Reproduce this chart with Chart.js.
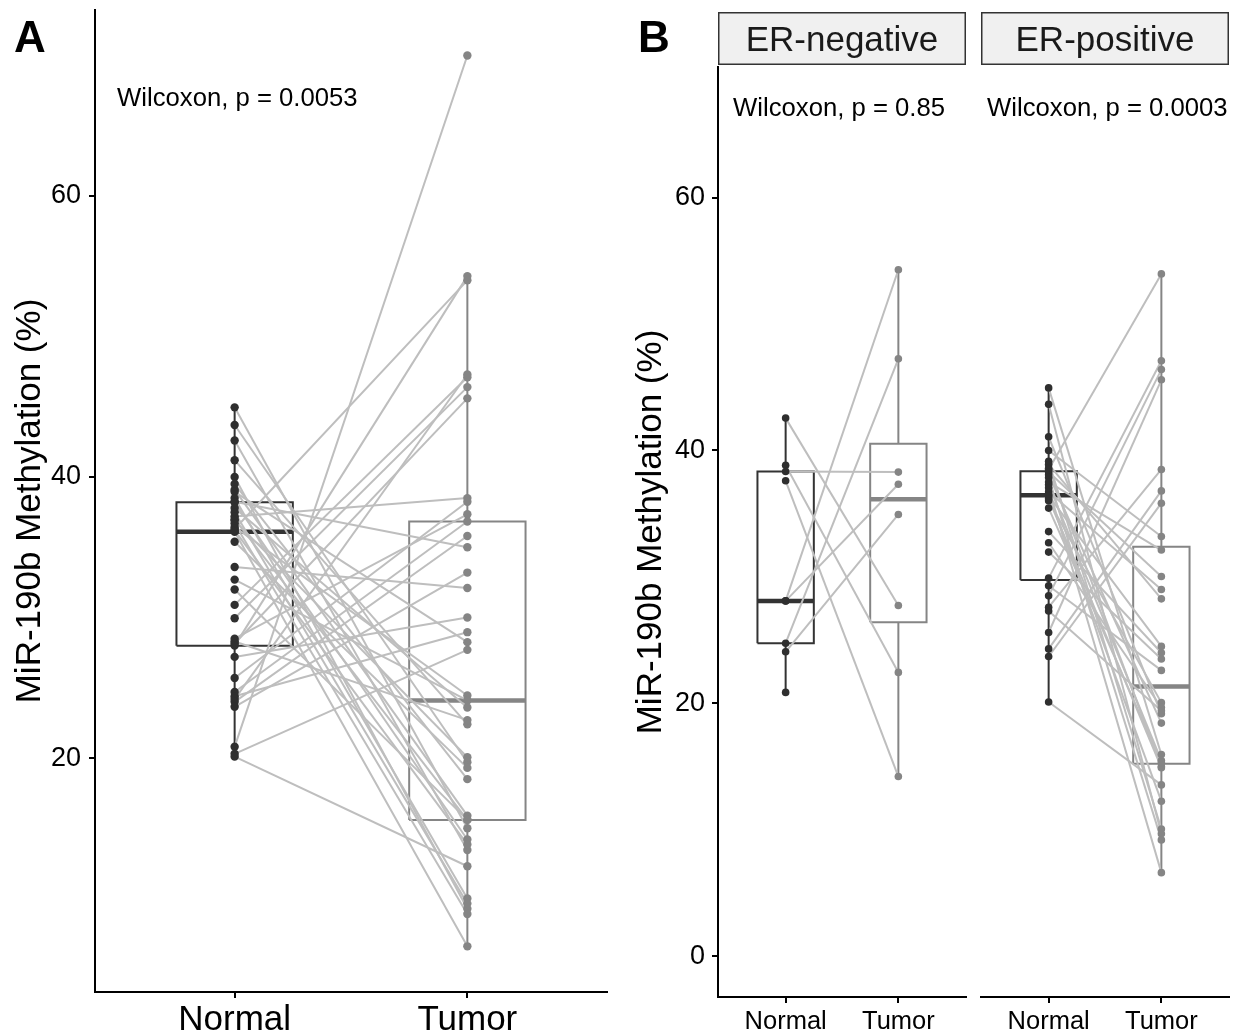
<!DOCTYPE html>
<html>
<head>
<meta charset="utf-8">
<script src="https://cdn.jsdelivr.net/npm/chart.js@4.4.1/dist/chart.umd.min.js"></script>
<style>
body { margin: 0; background: #fff; }
#wrap { position: relative; width: 1233px; height: 1032px; font-family: "Liberation Sans", Arial, sans-serif; }
canvas { position: absolute; top: 0; }
.tag { position: absolute; font-weight: bold; font-size: 44px; line-height: 44px; color: #000; }
</style>
</head>
<body>
<div id="wrap">
  <canvas id="chartA" width="620" height="1032" style="left:0px"></canvas>
  <canvas id="chartNeg" width="350" height="1032" style="left:620px"></canvas>
  <canvas id="chartPos" width="263" height="1032" style="left:970px"></canvas>
  <div class="tag" style="left:14px;top:15px">A</div>
  <div class="tag" style="left:638px;top:15px">B</div>
</div>
<script>
// groups on the x axis
const groups = ['Normal', 'Tumor'];
const groupPos = [1, 2];

// tick labels
const yTicksA = [20, 40, 60];
const yTicksB = [0, 20, 40, 60];

// panel A: all pairs (same index = same patient)
const normalA = [44.96, 43.7, 42.6, 41.2, 40.0, 39.5, 39.1, 38.95, 38.5, 38.24, 38.2, 37.8, 37.5, 37.2, 37.0,
    36.9, 36.7, 36.45, 36.3, 36.2, 36.1, 35.4, 33.6, 32.7, 32.0, 30.9, 29.95, 28.5, 28.3, 28.15,
    28.0, 27.2, 25.7, 24.7, 24.4, 24.2, 24.0, 23.65, 20.8, 20.3, 20.1];
const tumorA = [15.0, 19.7, 13.45, 22.4, 9.27, 18.5, 15.9, 28.25, 10.0, 35.0, 14.2, 23.6, 9.64, 38.5, 15.6,
    20.06, 8.9, 24.45, 54.0, 13.85, 6.6, 19.3, 32.1, 24.1, 15.6, 47.1, 46.4, 37.35, 22.7, 45.6,
    54.3, 30.0, 38.24, 36.84, 28.96, 47.3, 35.8, 33.2, 70.0, 27.7, 12.3];

// panel B: ER-negative
const normalNeg = [42.56, 38.83, 38.34, 37.6, 28.1, 28.1, 24.75, 24.07, 20.86];
const tumorNeg = [27.74, 22.44, 38.29, 14.2, 54.3, 37.33, 47.25, 34.94, null];

// panel B: ER-positive
const normalPos = [44.95, 43.65, 41.08, 40.0, 39.15, 38.9, 38.6, 38.5, 38.3, 38.08, 37.86, 37.5, 37.3, 37.05, 36.73,
    36.5, 36.41, 36.2, 36.02, 35.44, 33.58, 32.7, 31.96, 29.9, 29.3, 28.5, 27.6, 27.3, 25.6, 24.3, 23.7, 20.1];
const tumorPos = [15.95, 9.67, 19.17, 33.19, 10.05, 28.26, 14.99, 53.97, 30.03, 18.43, 9.19, 32.12, 15.47, 6.6, 29.0,
    12.25, 24.5, 14.9, 20.05, 15.3, 24.0, 19.66, 23.5, 47.1, 22.6, 46.4, 38.5, 19.4, 45.59, 36.8, 35.83, 13.54];

const FONT = '"Liberation Sans", Arial, sans-serif';
const LINE_COLOR = '#BEBEBE';
const NORMAL_COLOR = '#2F2F2F';
const TUMOR_COLOR = '#858585';

// quantile like R type 7
function quantile(sorted, p) {
    const h = (sorted.length - 1) * p;
    const lo = Math.floor(h);
    const next = lo + 1 < sorted.length ? sorted[lo + 1] : sorted[lo];
    return sorted[lo] + (h - lo) * (next - sorted[lo]);
}

function boxStats(values) {
    const s = values.filter(v => v != null).sort((a, b) => a - b);
    const q1 = quantile(s, 0.25), med = quantile(s, 0.5), q3 = quantile(s, 0.75);
    const iqr = q3 - q1;
    const lo = s.find(v => v >= q1 - 1.5 * iqr);
    const hi = s.slice().reverse().find(v => v <= q3 + 1.5 * iqr);
    return { q1, med, q3, lo, hi };
}

// box, median and whiskers as line datasets
function boxDatasets(x, values, color) {
    const st = boxStats(values);
    const w = 0.25;
    const base = { type: 'line', showLine: true, borderColor: color, pointRadius: 0, fill: false, order: 2,
        borderJoinStyle: 'miter', borderCapStyle: 'butt' };
    return [
        { ...base, borderWidth: 2, data: [{ x: x - w, y: st.q1 }, { x: x + w, y: st.q1 }, { x: x + w, y: st.q3 },
            { x: x - w, y: st.q3 }, { x: x - w, y: st.q1 }] },
        { ...base, borderWidth: 4.5, data: [{ x: x - w, y: st.med }, { x: x + w, y: st.med }] },
        { ...base, borderWidth: 2, data: [{ x: x, y: st.q3 }, { x: x, y: st.hi }] },
        { ...base, borderWidth: 2, data: [{ x: x, y: st.lo }, { x: x, y: st.q1 }] }
    ];
}

// grey lines joining each pair
function pairDatasets(normal, tumor) {
    const out = [];
    normal.forEach((n, i) => {
        if (n == null || tumor[i] == null) return;
        out.push({ type: 'line', showLine: true, borderColor: LINE_COLOR, borderWidth: 2, pointRadius: 0, order: 1,
            data: [{ x: groupPos[0], y: n }, { x: groupPos[1], y: tumor[i] }] });
    });
    return out;
}

function pointDataset(values, x, color, r) {
    return { type: 'scatter', backgroundColor: color, borderWidth: 0, pointRadius: r, order: 0,
        data: values.filter(v => v != null).map(v => ({ x: x, y: v })) };
}

// p value label and facet strip
const labelPlugin = {
    id: 'pval',
    afterDraw(chart, args, opts) {
        if (!opts.text) return;
        const { ctx, chartArea } = chart;
        ctx.save();
        ctx.fillStyle = '#000';
        ctx.font = '25.7px ' + FONT;
        ctx.textAlign = 'left';
        ctx.textBaseline = 'middle';
        ctx.fillText(opts.text, chartArea.left + opts.dx, chartArea.top + opts.dy);
        ctx.restore();
    }
};

const stripPlugin = {
    id: 'strip',
    afterDraw(chart, args, opts) {
        if (!opts.text) return;
        const { ctx, chartArea } = chart;
        const top = 12, bottom = 65;
        ctx.save();
        ctx.fillStyle = '#F0F0F0';
        ctx.strokeStyle = '#333';
        ctx.lineWidth = 1.5;
        ctx.fillRect(chartArea.left, top, chartArea.right - chartArea.left, bottom - top);
        ctx.strokeRect(chartArea.left + 0.75, top + 0.75, chartArea.right - chartArea.left - 1.5, bottom - top - 1.5);
        ctx.fillStyle = '#1A1A1A';
        ctx.font = '35px ' + FONT;
        ctx.textAlign = 'center';
        ctx.textBaseline = 'middle';
        ctx.fillText(opts.text, (chartArea.left + chartArea.right) / 2, (top + bottom) / 2 + 3);
        ctx.restore();
    }
};

function makeChart(id, cfg) {
    const datasets = [
        pointDataset(cfg.normal, groupPos[0], NORMAL_COLOR, cfg.radius),
        pointDataset(cfg.tumor, groupPos[1], TUMOR_COLOR, cfg.radius),
        ...pairDatasets(cfg.normal, cfg.tumor),
        ...boxDatasets(groupPos[0], cfg.normal, '#333333'),
        ...boxDatasets(groupPos[1], cfg.tumor, TUMOR_COLOR)
    ];
    return new Chart(document.getElementById(id), {
        type: 'scatter',
        data: { datasets: datasets },
        plugins: [labelPlugin, stripPlugin],
        options: {
            responsive: false,
            animation: false,
            layout: { padding: cfg.padding },
            plugins: {
                legend: { display: false },
                tooltip: { enabled: false },
                pval: cfg.pval,
                strip: { text: cfg.strip }
            },
            scales: {
                x: {
                    type: 'linear', min: 0.4, max: 2.6,
                    afterBuildTicks: s => { s.ticks = groupPos.map(v => ({ value: v })); },
                    afterFit: s => { s.height = cfg.xHeight; s.paddingLeft = 0; s.paddingRight = 0; },
                    ticks: { callback: v => groups[groupPos.indexOf(v)], font: { family: FONT, size: cfg.xFont },
                        color: '#000', padding: cfg.xPad, maxRotation: 0 },
                    grid: { drawOnChartArea: false, drawTicks: true, tickLength: 6, color: '#000', lineWidth: 2 },
                    border: { display: true, color: '#000', width: 2 }
                },
                y: {
                    type: 'linear', min: cfg.yMin, max: cfg.yMax,
                    display: cfg.showY,
                    afterBuildTicks: s => { s.ticks = cfg.yTicks.map(v => ({ value: v })); },
                    afterFit: s => { s.width = cfg.yWidth; s.paddingTop = 0; s.paddingBottom = 0; },
                    ticks: { callback: v => String(v), font: { family: FONT, size: 27 }, color: '#000', padding: cfg.yPad },
                    grid: { drawOnChartArea: false, drawTicks: true, tickLength: 6, color: '#000', lineWidth: 2 },
                    border: { display: true, color: '#000', width: 2 },
                    title: { display: true, text: 'MiR-190b Methylation (%)', color: '#000',
                        font: { family: FONT, size: 35 }, padding: { top: cfg.titlePad, bottom: 0 } }
                }
            }
        }
    });
}

makeChart('chartA', {
    normal: normalA, tumor: tumorA, radius: 4.2,
    padding: { top: 10, right: 13, left: 0, bottom: 0 },
    xHeight: 40, xFont: 35, xPad: 1,
    yMin: 3.35, yMax: 73.24, yTicks: yTicksA, yWidth: 95, yPad: 8, titlePad: 9, showY: true,
    pval: { text: 'Wilcoxon, p = 0.0053', dx: 22, dy: 89 }
});

makeChart('chartNeg', {
    normal: normalNeg, tumor: tumorNeg, radius: 3.8,
    padding: { top: 67, right: 4, left: 0, bottom: 0 },
    xHeight: 35, xFont: 25.5, xPad: 4,
    yMin: -3.24, yMax: 70.34, yTicks: yTicksB, yWidth: 98, yPad: 7, titlePad: 10, showY: true,
    pval: { text: 'Wilcoxon, p = 0.85', dx: 15, dy: 42 },
    strip: 'ER-negative'
});

makeChart('chartPos', {
    normal: normalPos, tumor: tumorPos, radius: 3.8,
    padding: { top: 67, right: 3, left: 11, bottom: 0 },
    xHeight: 35, xFont: 25.5, xPad: 4,
    yMin: -3.24, yMax: 70.34, yTicks: yTicksB, yWidth: 0, yPad: 7, titlePad: 10, showY: false,
    pval: { text: 'Wilcoxon, p = 0.0003', dx: 6, dy: 42 },
    strip: 'ER-positive'
});
</script>
</body>
</html>
